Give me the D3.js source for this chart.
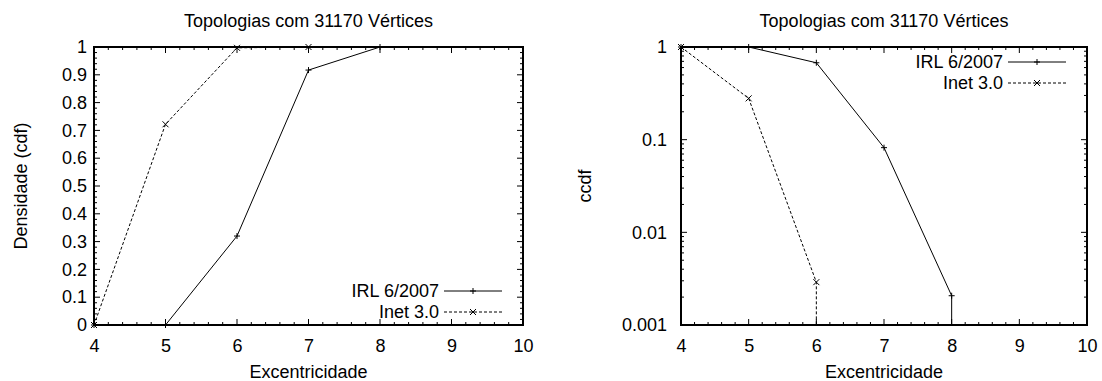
<!DOCTYPE html>
<html>
<head>
<meta charset="utf-8">
<script src="https://cdn.jsdelivr.net/npm/d3@7"></script>
<style>
  html, body { margin: 0; padding: 0; background: #fff; }
  svg { display: block; font-family: "Liberation Sans", Arial, Helvetica, sans-serif; }
</style>
</head>
<body>
<svg id="chart" width="1102" height="381"></svg>
<script>
// ---------- data ----------
const titleText = "Topologias com 31170 Vértices";
const xLabel = "Excentricidade";
const leftYLabel = "Densidade (cdf)";
const rightYLabel = "ccdf";
const seriesNames = ["IRL 6/2007", "Inet 3.0"];

const xTicks = [4, 5, 6, 7, 8, 9, 10];
const cdfTicks = [0, 0.1, 0.2, 0.3, 0.4, 0.5, 0.6, 0.7, 0.8, 0.9, 1];
const ccdfTicks = [0.001, 0.01, 0.1, 1];

// CDF (left)
const irlCdfX = [4, 5, 6, 7, 8];
const irlCdf  = [0, 0, 0.32, 0.917, 1];
const inetCdfX = [4, 5, 6, 7];
const inetCdf  = [0, 0.722, 0.997, 1];

// CCDF (right); 0 means the curve drops to the floor of the log axis
const irlCcdfX = [4, 5, 6, 7, 8, 9];
const irlCcdf  = [1, 1, 0.676, 0.082, 0.00207, 0];
const inetCcdfX = [4, 5, 6, 7];
const inetCcdf  = [1, 0.279, 0.0029, 0];

// ---------- drawing ----------
const svg = d3.select("#chart");
const fontTick = 18, fontLabel = 18, fontTitle = 18;

function panel(opts) {
  const { left, right, top, bottom, yScaleType } = opts;
  const g = svg.append("g");
  const x = d3.scaleLinear().domain([4, 10]).range([left, right]);
  let y;
  if (yScaleType === "log") y = d3.scaleLog().domain([0.001, 1]).range([bottom, top]);
  else y = d3.scaleLinear().domain([0, 1]).range([bottom, top]);

  const cid = "clip" + opts.id;
  svg.append("clipPath").attr("id", cid).append("rect")
    .attr("x", left).attr("y", top).attr("width", right - left).attr("height", bottom - top);

  // minor ticks
  const minorX = d3.range(4, 10.001, 0.2).filter(v => Math.abs(v - Math.round(v)) > 1e-6);
  let minorY;
  if (yScaleType === "log") {
    minorY = [];
    [0.001, 0.01, 0.1].forEach(d => { for (let k = 2; k <= 9; k++) minorY.push(d * k); });
  } else {
    minorY = d3.range(0, 1.0001, 0.02).filter(v => Math.abs(v * 10 - Math.round(v * 10)) > 1e-6);
  }
  const majLen = 6, minLen = 3;
  const tk = g.append("g").attr("stroke", "#000").attr("stroke-width", 1);
  function xt(v, len) {
    tk.append("line").attr("x1", x(v)).attr("x2", x(v)).attr("y1", bottom).attr("y2", bottom - len);
    tk.append("line").attr("x1", x(v)).attr("x2", x(v)).attr("y1", top).attr("y2", top + len);
  }
  function yt(v, len) {
    tk.append("line").attr("y1", y(v)).attr("y2", y(v)).attr("x1", left).attr("x2", left + len);
    tk.append("line").attr("y1", y(v)).attr("y2", y(v)).attr("x1", right).attr("x2", right - len);
  }
  xTicks.forEach(v => xt(v, majLen));
  minorX.forEach(v => xt(v, minLen));
  opts.yTicks.forEach(v => yt(v, majLen));
  minorY.forEach(v => yt(v, minLen));

  // tick labels via axes
  const xAxis = d3.axisBottom(x).tickValues(xTicks).tickSize(0).tickPadding(0).tickFormat(d3.format("d"));
  const xa = g.append("g").attr("transform", `translate(0,352)`).call(xAxis);
  xa.select(".domain").remove();
  xa.selectAll("text").attr("font-size", fontTick).attr("font-family", null).attr("fill", "#000").attr("dy", "0");

  const yAxis = d3.axisLeft(y).tickValues(opts.yTicks).tickSize(0).tickPadding(0)
    .tickFormat(opts.yFormat);
  const ya = g.append("g").attr("transform", `translate(${opts.ytickX},0)`).call(yAxis);
  ya.select(".domain").remove();
  ya.selectAll("text").attr("font-size", fontTick).attr("font-family", null).attr("fill", "#000");

  // series
  const lines = g.append("g").attr("clip-path", `url(#${cid})`);
  function series(xs, ys, dash, marker) {
    const pts = [];
    xs.forEach((xv, i) => {
      if (yScaleType === "log" && ys[i] <= 0) {
        if (pts.length) pts.push([pts[pts.length - 1][0], bottom + 5, false]);
      } else {
        pts.push([x(xv), y(ys[i]), true]);
      }
    });
    lines.append("path")
      .attr("d", d3.line()(pts.map(p => [p[0], p[1]])))
      .attr("fill", "none").attr("stroke", "#000").attr("stroke-width", 1)
      .attr("stroke-dasharray", dash);
    pts.filter(p => p[2]).forEach(p => drawMarker(g, p[0], p[1], marker));
  }
  series(opts.s1x, opts.s1y, null, "plus");
  series(opts.s2x, opts.s2y, "3,2", "cross");

  // border
  g.append("rect").attr("x", left).attr("y", top).attr("width", right - left).attr("height", bottom - top)
    .attr("fill", "none").attr("stroke", "#000").attr("stroke-width", 2);

  // title & labels
  g.append("text").attr("x", (left + right) / 2).attr("y", 27).attr("text-anchor", "middle")
    .attr("font-size", fontTitle).text(titleText);
  g.append("text").attr("x", (left + right) / 2).attr("y", 378).attr("text-anchor", "middle")
    .attr("font-size", fontLabel).text(xLabel);
  g.append("text").attr("transform", `translate(${opts.ylabX},${(top + bottom) / 2}) rotate(-90)`)
    .attr("text-anchor", "middle").attr("dy", "0.35em").attr("font-size", fontLabel).text(opts.yLabel);

  // legend
  const lg = g.append("g");
  seriesNames.forEach((name, i) => {
    const ly = opts.legendY + i * 21;
    const textEnd = right - 84;
    lg.append("text").attr("x", textEnd).attr("y", ly).attr("dy", "0.35em")
      .attr("text-anchor", "end").attr("font-size", fontLabel).text(name);
    lg.append("line").attr("x1", textEnd + 5).attr("x2", right - 21).attr("y1", ly).attr("y2", ly)
      .attr("stroke", "#000").attr("stroke-width", 1).attr("stroke-dasharray", i === 0 ? null : "3,2");
    drawMarker(lg, (textEnd + 5 + right - 21) / 2, ly, i === 0 ? "plus" : "cross");
  });
}

function drawMarker(g, cx, cy, type) {
  const s = 3;
  const p = type === "plus"
    ? `M${cx - s},${cy}H${cx + s}M${cx},${cy - s}V${cy + s}`
    : `M${cx - s},${cy - s}L${cx + s},${cy + s}M${cx - s},${cy + s}L${cx + s},${cy - s}`;
  g.append("path").attr("d", p).attr("stroke", "#000").attr("stroke-width", 1).attr("fill", "none");
}

panel({
  id: "L", left: 94, right: 523, top: 47, bottom: 325, yScaleType: "linear",
  yTicks: cdfTicks, yFormat: d3.format("~g"), ytickX: 87,
  s1x: irlCdfX, s1y: irlCdf, s2x: inetCdfX, s2y: inetCdf,
  yLabel: leftYLabel, ylabX: 21, legendY: 291
});
panel({
  id: "R", left: 681, right: 1087, top: 47, bottom: 325, yScaleType: "log",
  yTicks: ccdfTicks, yFormat: d3.format("~g"), ytickX: 667,
  s1x: irlCcdfX, s1y: irlCcdf, s2x: inetCcdfX, s2y: inetCcdf,
  yLabel: rightYLabel, ylabX: 585, legendY: 62
});
</script>
</body>
</html>
